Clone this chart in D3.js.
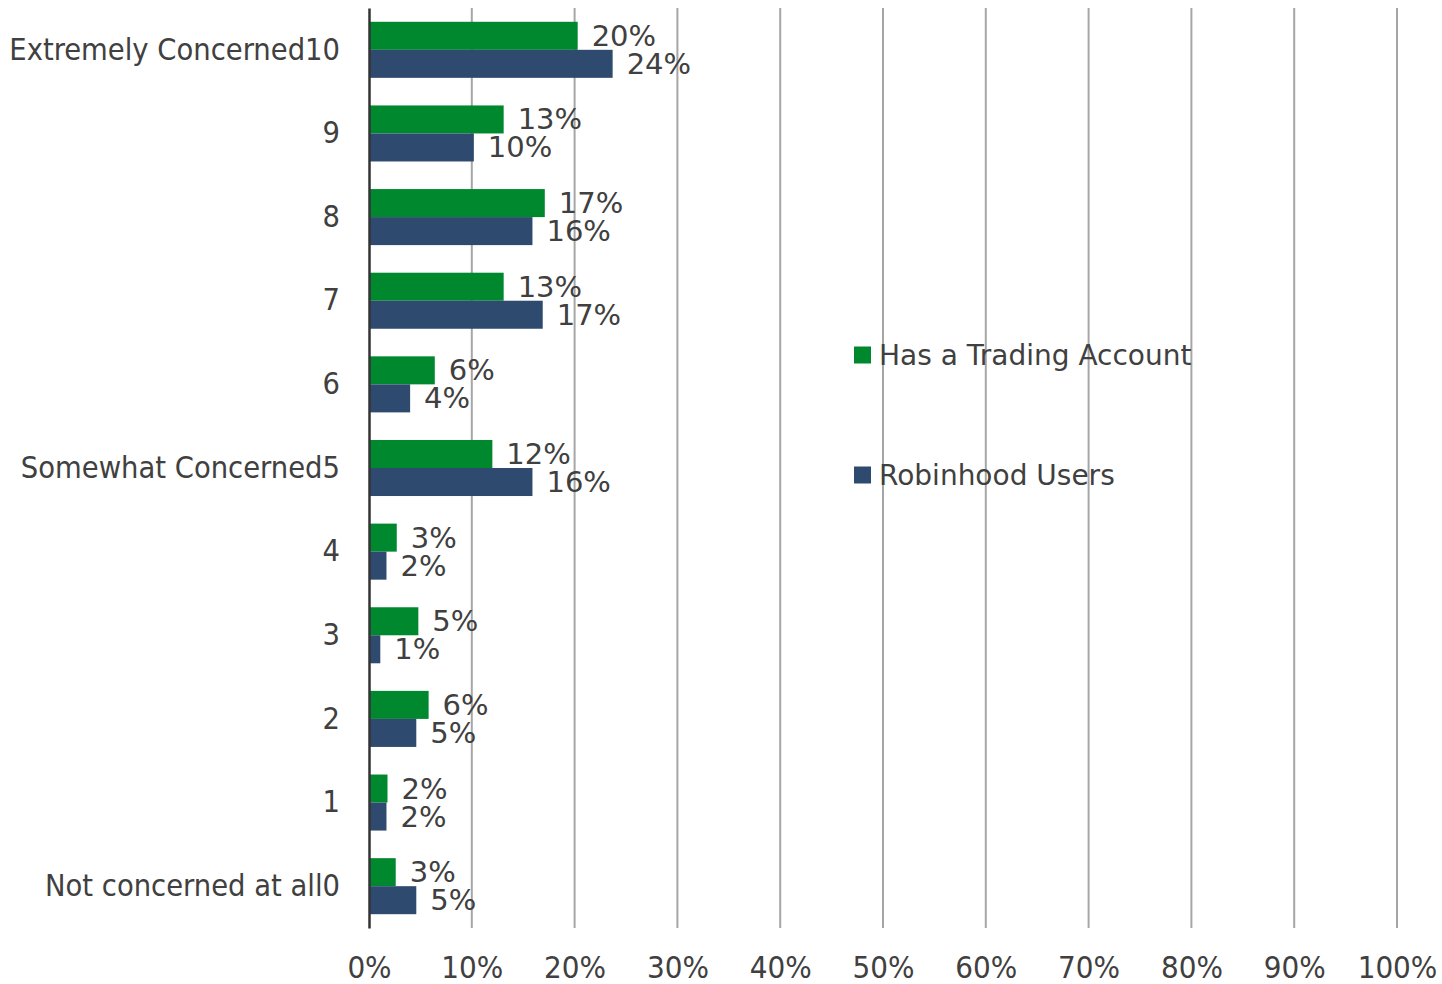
<!DOCTYPE html>
<html>
<head>
<meta charset="utf-8">
<script src="https://cdn.jsdelivr.net/npm/d3@7"></script>
<style>
  body { margin: 0; background: #fff; }
  text { font-family: 'DejaVu Sans Condensed', 'DejaVu Sans', sans-serif; fill: #404040; }
  .wide { font-family: 'DejaVu Sans', sans-serif; }
</style>
</head>
<body>
<svg id="chart" width="1442" height="984"></svg>
<script>
// categories, top to bottom
const categories = [
  'Extremely Concerned10', '9', '8', '7', '6', 'Somewhat Concerned5',
  '4', '3', '2', '1', 'Not concerned at all0'
];
const seriesNames = ['Has a Trading Account', 'Robinhood Users'];
// share of respondents (fraction), same order as categories
const tradingAccount = [0.203, 0.131, 0.171, 0.131, 0.064, 0.120, 0.027, 0.048, 0.058, 0.018, 0.026];
const robinhoodUsers = [0.237, 0.102, 0.159, 0.169, 0.040, 0.159, 0.017, 0.011, 0.046, 0.017, 0.046];
const xTicks = [0, 0.1, 0.2, 0.3, 0.4, 0.5, 0.6, 0.7, 0.8, 0.9, 1];

const colors = ['#00882e', '#2e4a6e'];

const svg = d3.select('#chart');
const plotLeft = 369, plotRight = 1397, plotTop = 8, plotBottom = 928;

const x = d3.scaleLinear().domain([0, 1]).range([plotLeft, plotRight]);
const y = d3.scaleBand().domain(categories).range([plotTop, plotBottom])
  .paddingInner(0.33).paddingOuter(0.165);
const ySub = d3.scaleBand().domain(seriesNames).range([0, y.bandwidth()]);

// vertical gridlines
svg.append('g')
  .selectAll('line')
  .data(xTicks.slice(1))
  .enter()
  .append('line')
  .attr('x1', d => x(d)).attr('x2', d => x(d))
  .attr('y1', plotTop).attr('y2', plotBottom)
  .attr('stroke', '#a6a6a6')
  .attr('stroke-width', 2);

// x tick labels
const xAxis = svg.append('g')
  .attr('transform', 'translate(0,' + plotBottom + ')')
  .call(d3.axisBottom(x).tickValues(xTicks).tickFormat(d3.format('.0%')).tickSize(0).tickPadding(28));
xAxis.select('.domain').remove();
xAxis.selectAll('text')
  .style('font-size', '31px')
  .attr('fill', '#404040')
  .style('font-family', null);

// bars
const rows = categories.map((c, i) => ({ cat: c, vals: [tradingAccount[i], robinhoodUsers[i]] }));
const groups = svg.append('g')
  .selectAll('g')
  .data(rows)
  .enter()
  .append('g')
  .attr('transform', d => 'translate(0,' + y(d.cat) + ')');

groups.selectAll('rect')
  .data(d => d.vals.map((v, i) => ({ name: seriesNames[i], v: v, i: i })))
  .enter()
  .append('rect')
  .attr('x', x(0))
  .attr('y', d => ySub(d.name))
  .attr('width', d => x(d.v) - x(0))
  .attr('height', ySub.bandwidth())
  .attr('fill', d => colors[d.i]);

groups.selectAll('text')
  .data(d => d.vals.map((v, i) => ({ name: seriesNames[i], v: v, i: i })))
  .enter()
  .append('text')
  .attr('class', 'wide')
  .attr('x', d => x(d.v) + 14)
  .attr('y', d => ySub(d.name) + ySub.bandwidth() / 2 + 2)
  .attr('dominant-baseline', 'middle')
  .style('font-size', '29px')
  .text(d => Math.round(d.v * 100) + '%');

// y axis with category labels
const yAxis = svg.append('g')
  .attr('transform', 'translate(' + plotLeft + ',0)')
  .call(d3.axisLeft(y).tickSize(0).tickPadding(29));
yAxis.select('.domain').attr('stroke', '#333').attr('stroke-width', 2.5);
yAxis.selectAll('text')
  .style('font-size', '30.5px')
  .attr('fill', '#404040')
  .style('font-family', null);

// legend
const legend = svg.append('g')
  .selectAll('g')
  .data(seriesNames)
  .enter()
  .append('g')
  .attr('transform', (d, i) => 'translate(854,' + (355 + i * 120) + ')');
legend.append('rect')
  .attr('x', 0).attr('y', -8.5)
  .attr('width', 17).attr('height', 17)
  .attr('fill', (d, i) => colors[i]);
legend.append('text')
  .attr('class', 'wide')
  .attr('x', 25).attr('y', 2)
  .attr('dominant-baseline', 'middle')
  .style('font-size', '28px')
  .text(d => d);
</script>
</body>
</html>
